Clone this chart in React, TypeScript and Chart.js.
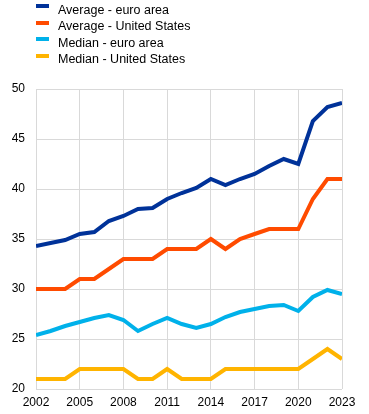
import React, { useEffect, useRef } from "react";
import { Chart, registerables } from "chart.js";

Chart.register(...registerables);

const years = [2002, 2003, 2004, 2005, 2006, 2007, 2008, 2009, 2010, 2011, 2012, 2013, 2014, 2015, 2016, 2017, 2018, 2019, 2020, 2021, 2022, 2023];
const tickYears = [2002, 2005, 2008, 2011, 2014, 2017, 2020, 2023];
const yTicks = [20, 25, 30, 35, 40, 45, 50];

const avgEuro = [34.3, 34.6, 34.9, 35.5, 35.7, 36.8, 37.3, 38.0, 38.1, 39.0, 39.6, 40.1, 41.0, 40.4, 41.0, 41.5, 42.3, 43.0, 42.5, 46.8, 48.2, 48.6];
const avgUS = [30, 30, 30, 31, 31, 32, 33, 33, 33, 34, 34, 34, 35, 34, 35, 35.5, 36, 36, 36, 39, 41, 41];
const medEuro = [25.4, 25.8, 26.3, 26.7, 27.1, 27.4, 26.9, 25.8, 26.5, 27.1, 26.5, 26.1, 26.5, 27.2, 27.7, 28.0, 28.3, 28.4, 27.8, 29.2, 29.9, 29.5];
const medUS = [21, 21, 21, 22, 22, 22, 22, 21, 21, 22, 21, 21, 21, 22, 22, 22, 22, 22, 22, 23, 24, 23];

const seriesNames = ["Average - euro area", "Average - United States", "Median - euro area", "Median - United States"];
const seriesColors = ["#003299", "#FF4B00", "#00B1EA", "#FFB400"];
const seriesData = [avgEuro, avgUS, medEuro, medUS];

const FONT = "'Liberation Sans', Arial, sans-serif";

export default function App() {
  const ref = useRef<HTMLCanvasElement | null>(null);

  useEffect(() => {
    if (!ref.current) return;
    const chart = new Chart(ref.current, {
      type: "line",
      data: {
        datasets: seriesData.map((vals, i) => ({
          label: seriesNames[i],
          data: years.map((y, j) => ({ x: y, y: vals[j] })),
          borderColor: seriesColors[i],
          backgroundColor: seriesColors[i],
          borderWidth: 4,
          pointRadius: 0,
          tension: 0,
          fill: false,
          clip: 0,
        })),
      },
      options: {
        animation: false,
        responsive: false,
        maintainAspectRatio: false,
        layout: { padding: { top: 89, right: 27, bottom: 0, left: 0 } },
        plugins: { legend: { display: false }, tooltip: { enabled: false } },
        scales: {
          x: {
            type: "linear",
            min: 2002,
            max: 2023,
            afterBuildTicks: (axis: any) => {
              axis.ticks = tickYears.map((v) => ({ value: v }));
            },
            afterFit: (axis: any) => {
              axis.height = 25;
            },
            grid: { color: "#d9d9d9", lineWidth: 1, drawTicks: false },
            border: { display: false },
            ticks: {
              padding: 6,
              color: "#000",
              font: { family: FONT, size: 12 },
              maxRotation: 0,
              autoSkip: false,
              callback: (v: any) => String(v),
            },
          },
          y: {
            type: "linear",
            min: 20,
            max: 50,
            afterBuildTicks: (axis: any) => {
              axis.ticks = yTicks.map((v) => ({ value: v }));
            },
            afterFit: (axis: any) => {
              axis.width = 36;
            },
            grid: { color: "#d9d9d9", lineWidth: 1, drawTicks: false },
            border: { display: false },
            ticks: {
              padding: 11,
              color: "#000",
              font: { family: FONT, size: 12 },
            },
          },
        },
      },
    });
    return () => chart.destroy();
  }, []);

  return (
    <div style={{ position: "absolute", left: 0, top: 0, width: 369, height: 414, background: "#fff" }}>
      <canvas ref={ref} width={369} height={414} style={{ position: "absolute", left: 0, top: 0, width: 369, height: 414 }} />
      <div style={{ position: "absolute", left: 0, top: 0 }}>
        {seriesNames.map((name, i) => (
          <div
            key={name}
            style={{
              position: "absolute",
              left: 36,
              top: 1 + i * 16.6,
              height: 16,
              whiteSpace: "nowrap",
              fontFamily: FONT,
              fontSize: 12.5,
              lineHeight: "16px",
              color: "#000",
            }}
          >
            <span style={{ position: "absolute", left: 0, top: 3, width: 13, height: 4, background: seriesColors[i] }} />
            <span style={{ position: "absolute", left: 22, top: 0.5 }}>{name}</span>
          </div>
        ))}
      </div>
    </div>
  );
}
